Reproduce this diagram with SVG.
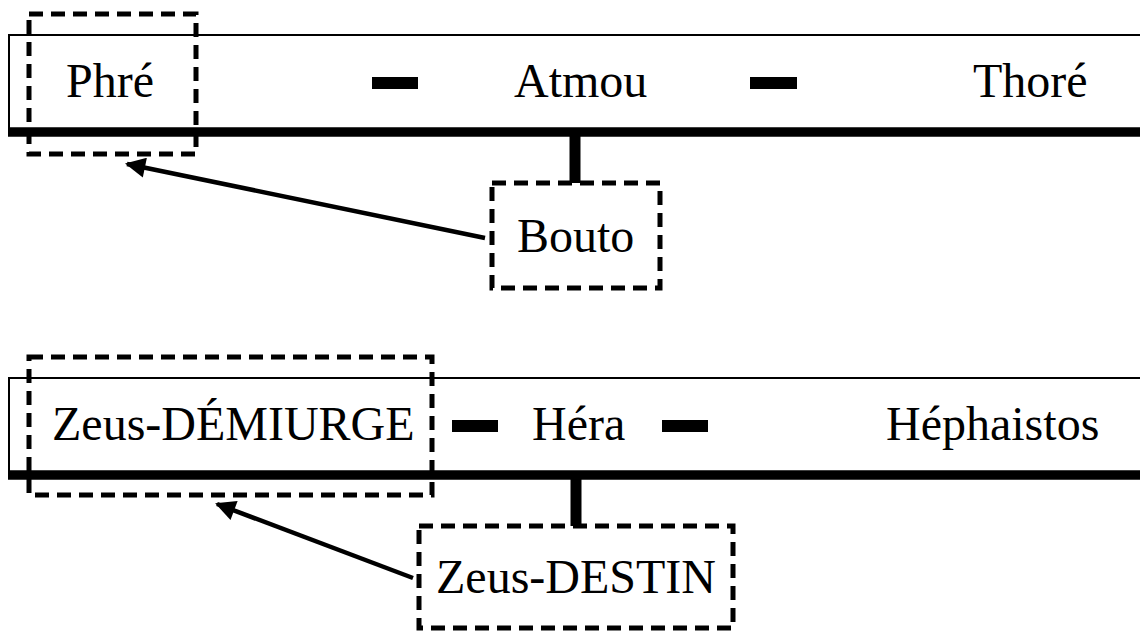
<svg xmlns="http://www.w3.org/2000/svg" width="1140" height="631" viewBox="0 0 1140 631">
<style>
.t{font-family:"Liberation Serif","Times New Roman",serif;font-size:48px;fill:#000}
.band{fill:none;stroke:#000;stroke-width:2}
.thick{stroke:#000;stroke-width:9.5;fill:none}
.box{fill:none;stroke:#000;stroke-width:5;stroke-dasharray:14 8}
.stem{stroke:#000;stroke-width:11;fill:none}
.arr{stroke:#000;stroke-width:4.5;fill:none;marker-end:url(#ah)}
</style>
<defs>
<marker id="ah" viewBox="0 0 10 10" refX="9" refY="5" markerWidth="5.5" markerHeight="4.5" markerUnits="strokeWidth" orient="auto">
<path d="M0,0 L10,5 L0,10 z" fill="#000"/>
</marker>
</defs>
<rect width="1140" height="631" fill="#fff"/>
<g id="band1">
<rect class="band" x="9" y="35" width="1150" height="97"/>
<line class="thick" x1="8" y1="132" x2="1140" y2="132"/>
<rect x="372" y="77" width="46" height="12" fill="#000"/>
<rect x="750" y="77" width="47" height="12" fill="#000"/>
</g>
<g id="phre">
<rect class="box" x="29" y="14" width="167" height="140"/>
<text class="t" x="66" y="97">Phré</text>
</g>
<g id="atmou"><text class="t" x="514" y="97">Atmou</text></g>
<g id="thore"><text class="t" x="973" y="97">Thoré</text></g>
<g id="bouto">
<rect class="box" x="492" y="183" width="168" height="105"/>
<text class="t" x="517" y="252">Bouto</text>
</g>
<g id="band2">
<rect class="band" x="9" y="378" width="1150" height="97"/>
<line class="thick" x1="8" y1="475" x2="1140" y2="475"/>
<rect x="452" y="420" width="46" height="12" fill="#000"/>
<rect x="662" y="420" width="46" height="12" fill="#000"/>
</g>
<g id="demiurge">
<rect class="box" x="29" y="357" width="403" height="138"/>
<text class="t" x="52" y="440">Zeus-DÉMIURGE</text>
</g>
<g id="hera"><text class="t" x="532" y="440">Héra</text></g>
<g id="hephaistos"><text class="t" x="886" y="440">Héphaistos</text></g>
<g id="destin">
<rect class="box" x="419" y="526" width="314" height="102"/>
<text class="t" x="436" y="593">Zeus-DESTIN</text>
</g>
<g id="connectors">
<line class="stem" x1="575" y1="136" x2="575" y2="183"/>
<line class="stem" x1="576" y1="479" x2="576" y2="526"/>
<line class="arr" x1="485" y1="238" x2="127" y2="164"/>
<line class="arr" x1="413" y1="578" x2="217" y2="504"/>
</g>
</svg>
